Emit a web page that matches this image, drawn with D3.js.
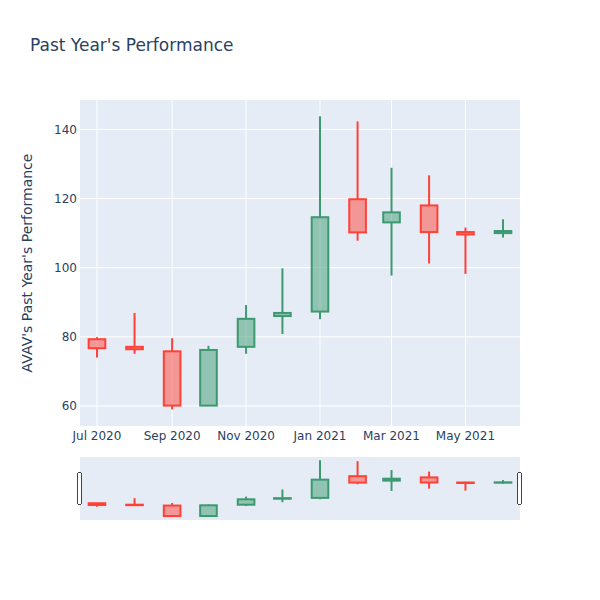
<!DOCTYPE html>
<html>
<head>
<meta charset="utf-8">
<script src="https://cdn.jsdelivr.net/npm/d3@7"></script>
<style>
  body { margin: 0; background: #fff; }
  svg { font-family: "DejaVu Sans", verdana, arial, sans-serif; }
</style>
</head>
<body>
<div id="chart"></div>
<script>
// monthly candles
const dates = ["2020-07-01", "2020-08-01", "2020-09-01", "2020-10-01", "2020-11-01", "2020-12-01",
               "2021-01-01", "2021-02-01", "2021-03-01", "2021-04-01", "2021-05-01", "2021-06-01"];
const open  = [79.3, 77.1, 75.8, 60.1, 77.1, 86.0, 87.3, 119.8, 113.1, 118.0, 110.3, 110.0];
const high  = [79.9, 86.9, 79.6, 77.4, 89.2, 99.8, 143.8, 142.3, 128.9, 126.7, 111.6, 114.0];
const low   = [74.0, 75.1, 59.0, 60.0, 75.1, 80.8, 85.1, 107.8, 97.7, 101.2, 98.2, 108.7];
const close = [76.7, 76.4, 60.1, 76.2, 85.2, 86.9, 114.6, 110.2, 116.0, 110.3, 109.6, 110.6];
const yTicks = [60, 80, 100, 120, 140];
const yRange = [54.2, 148.5];

const width = 600, height = 600;
const margin = {left: 80, right: 80, top: 100};
const mainBottom = 426;
const slider = {top: 457, bottom: 520};
const incColor = "#3D9970", decColor = "#FF4136";
const textColor = "#2a3f5f";

const parse = d3.utcParse("%Y-%m-%d");
const data = dates.map((d, i) => ({
  date: parse(d), open: open[i], high: high[i], low: low[i], close: close[i]
}));

// plotly-ish padding: half of the smallest spacing on each side
const gaps = d3.pairs(data, (a, b) => b.date - a.date);
const dPos = d3.min(gaps) / 2;
const halfBox = dPos * 0.7 * 0.7;

const x = d3.scaleUtc()
  .domain([new Date(+data[0].date - dPos), new Date(+data[data.length - 1].date + dPos)])
  .range([margin.left, width - margin.right]);

const y = d3.scaleLinear().domain(yRange).range([mainBottom, margin.top]);
const ySlider = d3.scaleLinear().domain(yRange).range([slider.bottom, slider.top]);

const svg = d3.select("#chart").append("svg")
  .attr("width", width)
  .attr("height", height)
  .attr("viewBox", [0, 0, width, height]);

svg.append("rect").attr("width", width).attr("height", height).attr("fill", "#fff");

const defs = svg.append("defs");
defs.append("clipPath").attr("id", "clip-main")
  .append("rect")
  .attr("x", margin.left).attr("y", margin.top)
  .attr("width", width - margin.left - margin.right)
  .attr("height", mainBottom - margin.top);
defs.append("clipPath").attr("id", "clip-slider")
  .append("rect")
  .attr("x", margin.left).attr("y", slider.top)
  .attr("width", width - margin.left - margin.right)
  .attr("height", slider.bottom - slider.top);

// main plot background
svg.append("rect")
  .attr("x", margin.left).attr("y", margin.top)
  .attr("width", width - margin.left - margin.right)
  .attr("height", mainBottom - margin.top)
  .attr("fill", "#E5ECF6");

const xTicks = x.ticks(d3.utcMonth.every(2));
const fmt = d3.utcFormat("%b %Y");

// grid
svg.append("g")
  .selectAll("line")
  .data(xTicks)
  .join("line")
    .attr("x1", d => x(d)).attr("x2", d => x(d))
    .attr("y1", margin.top).attr("y2", mainBottom)
    .attr("stroke", "#fff").attr("stroke-width", 1);

svg.append("g")
  .selectAll("line")
  .data(yTicks)
  .join("line")
    .attr("x1", margin.left).attr("x2", width - margin.right)
    .attr("y1", d => y(d)).attr("y2", d => y(d))
    .attr("stroke", "#fff").attr("stroke-width", 1);

// tick labels
svg.append("g")
  .selectAll("text")
  .data(yTicks)
  .join("text")
    .attr("x", margin.left - 3)
    .attr("y", d => y(d))
    .attr("dy", "0.35em")
    .attr("text-anchor", "end")
    .attr("font-size", 12)
    .attr("fill", textColor)
    .text(d => d);

svg.append("g")
  .selectAll("text")
  .data(xTicks)
  .join("text")
    .attr("x", d => x(d))
    .attr("y", mainBottom + 13.5)
    .attr("text-anchor", "middle")
    .attr("font-size", 12)
    .attr("fill", textColor)
    .text(d => fmt(d));

function drawCandles(g, yScale) {
  const c = g.selectAll("g")
    .data(data)
    .join("g")
      .attr("stroke", d => d.close >= d.open ? incColor : decColor)
      .attr("stroke-width", 2);

  c.append("line")
    .attr("x1", d => x(d.date)).attr("x2", d => x(d.date))
    .attr("y1", d => yScale(d.high))
    .attr("y2", d => yScale(Math.max(d.open, d.close)));

  c.append("line")
    .attr("x1", d => x(d.date)).attr("x2", d => x(d.date))
    .attr("y1", d => yScale(Math.min(d.open, d.close)))
    .attr("y2", d => yScale(d.low));

  c.append("rect")
    .attr("x", d => x(new Date(+d.date - halfBox)))
    .attr("width", d => x(new Date(+d.date + halfBox)) - x(new Date(+d.date - halfBox)))
    .attr("y", d => yScale(Math.max(d.open, d.close)))
    .attr("height", d => Math.abs(yScale(d.open) - yScale(d.close)))
    .attr("fill", d => d.close >= d.open ? incColor : decColor)
    .attr("fill-opacity", 0.5);
}

drawCandles(svg.append("g").attr("clip-path", "url(#clip-main)"), y);

// range slider
svg.append("rect")
  .attr("x", margin.left).attr("y", slider.top)
  .attr("width", width - margin.left - margin.right)
  .attr("height", slider.bottom - slider.top)
  .attr("fill", "#E5ECF6");

drawCandles(svg.append("g").attr("clip-path", "url(#clip-slider)"), ySlider);

const sliderH = slider.bottom - slider.top;
svg.append("g")
  .selectAll("rect")
  .data(x.range())
  .join("rect")
    .attr("x", d => d - 2.5)
    .attr("y", slider.top + sliderH / 4)
    .attr("width", 4)
    .attr("height", sliderH / 2)
    .attr("rx", 1)
    .attr("fill", "#fff")
    .attr("stroke", "#444")
    .attr("stroke-width", 1)
    .attr("shape-rendering", "crispEdges");

// titles
svg.append("text")
  .attr("x", 30)
  .attr("y", 50.5)
  .attr("font-size", 17)
  .attr("fill", textColor)
  .text("Past Year's Performance");

svg.append("text")
  .attr("transform", `translate(${27 + 5},${(margin.top + mainBottom) / 2}) rotate(-90)`)
  .attr("text-anchor", "middle")
  .attr("font-size", 14)
  .attr("fill", textColor)
  .text("AVAV's Past Year's Performance");
</script>
</body>
</html>
